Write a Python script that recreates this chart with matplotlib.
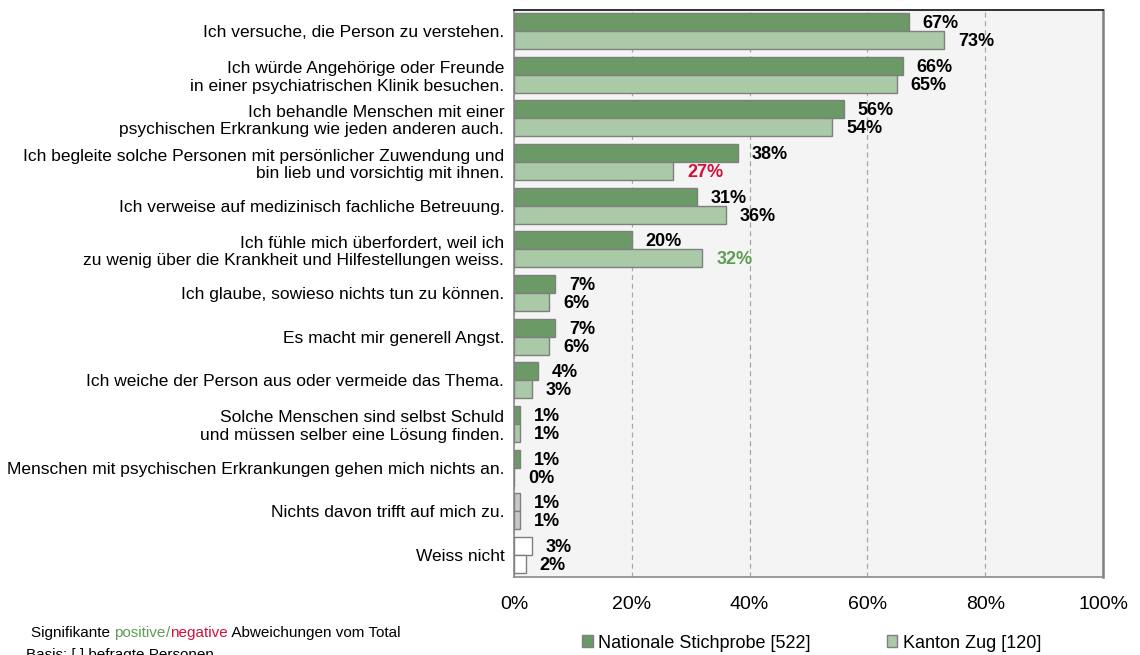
import numpy as np
import matplotlib
matplotlib.use("Agg")
import matplotlib.pyplot as plt
from matplotlib.patches import Patch

plt.rcParams['font.family'] = ['Liberation Sans', 'DejaVu Sans']

# Daten
kategorien = [
    "Ich versuche, die Person zu verstehen.",
    "Ich würde Angehörige oder Freunde\nin einer psychiatrischen Klinik besuchen.",
    "Ich behandle Menschen mit einer\npsychischen Erkrankung wie jeden anderen auch.",
    "Ich begleite solche Personen mit persönlicher Zuwendung und\nbin lieb und vorsichtig mit ihnen.",
    "Ich verweise auf medizinisch fachliche Betreuung.",
    "Ich fühle mich überfordert, weil ich\nzu wenig über die Krankheit und Hilfestellungen weiss.",
    "Ich glaube, sowieso nichts tun zu können.",
    "Es macht mir generell Angst.",
    "Ich weiche der Person aus oder vermeide das Thema.",
    "Solche Menschen sind selbst Schuld\nund müssen selber eine Lösung finden.",
    "Menschen mit psychischen Erkrankungen gehen mich nichts an.",
    "Nichts davon trifft auf mich zu.",
    "Weiss nicht",
]
national = [67, 66, 56, 38, 31, 20, 7, 7, 4, 1, 1, 1, 3]
zug = [73, 65, 54, 27, 36, 32, 6, 6, 3, 1, 0, 1, 2]
# Signifikanz für Kanton Zug: +1 positiv, -1 negativ, 0 keine
signifikanz_zug = [0, 0, 0, -1, 0, 1, 0, 0, 0, 0, 0, 0, 0]

legende = ["Nationale Stichprobe [522]", "Kanton Zug [120]"]
ticks = [0, 20, 40, 60, 80, 100]

# Farben
dunkelgruen = "#6b9a66"
hellgruen = "#aac9a6"
grau_bar = "#c8c8c8"
rand = "#7f7f7f"
rot = "#d2103c"
gruen_text = "#5f9d55"

farben_nat = [dunkelgruen] * 11 + [grau_bar, "white"]
farben_zug = [hellgruen] * 11 + [grau_bar, "white"]

fig = plt.figure(figsize=(11.4, 6.55), dpi=100)
ax = fig.add_axes([514 / 1140, 1 - 577 / 655, 589 / 1140, 567 / 655])
ax.set_facecolor("#f4f4f4")

n = len(kategorien)
y = np.arange(n)
h = 0.412

ax.barh(y - h / 2, national, height=h, color=farben_nat, edgecolor=rand, linewidth=1, zorder=3)
ax.barh(y + h / 2, zug, height=h, color=farben_zug, edgecolor=rand, linewidth=1, zorder=3)

# Werte beschriften
for i in range(n):
    ax.annotate(f"{national[i]}%", (national[i], y[i] - h / 2), xytext=(10, -1),
                textcoords="offset points", va="center", ha="left",
                fontsize=13, fontweight="bold", color="black", zorder=4)
    if signifikanz_zug[i] > 0:
        c = gruen_text
    elif signifikanz_zug[i] < 0:
        c = rot
    else:
        c = "black"
    ax.annotate(f"{zug[i]}%", (zug[i], y[i] + h / 2), xytext=(10, -1),
                textcoords="offset points", va="center", ha="left",
                fontsize=13, fontweight="bold", color=c, zorder=4)

ax.set_xlim(0, 100)
ax.set_ylim(n - 1 + 0.504, -0.481)
ax.set_xticks(ticks)
ax.set_xticklabels([f"{t}%" for t in ticks], fontsize=14)
ax.set_yticks(y)
ax.set_yticklabels(kategorien, fontsize=12.5, linespacing=1.22)
ax.tick_params(axis="both", length=0)
ax.tick_params(axis="x", pad=14)
ax.tick_params(axis="y", pad=7)

ax.grid(axis="x", color="#a8a8a8", linestyle=(0, (4, 3)), linewidth=0.9, zorder=0)
ax.set_axisbelow(True)

for s in ["left", "bottom"]:
    ax.spines[s].set_color("#8a8a8a")
    ax.spines[s].set_linewidth(1.2)
ax.spines["top"].set_color("#222222")
ax.spines["top"].set_linewidth(1.3)
ax.spines["right"].set_color("#808080")
ax.spines["right"].set_linewidth(1.8)

# Legende
handles = [Patch(facecolor=dunkelgruen, edgecolor=rand),
           Patch(facecolor=hellgruen, edgecolor=rand)]
fig.legend(handles, legende, loc="center left", bbox_to_anchor=(582 / 1140, 1 - 643 / 655),
           ncol=2, frameon=False, fontsize=13, handlelength=0.6, handleheight=0.6,
           handletextpad=0.3, columnspacing=4.2, borderaxespad=0, borderpad=0)

# Fusszeile mit farbigen Teilen
renderer = fig.canvas.get_renderer()
teile = [("Signifikante ", "black"), ("positive", gruen_text), ("/", gruen_text),
         ("negative", rot), (" Abweichungen vom Total", "black")]
x_px = 31
for txt, col in teile:
    t = fig.text(x_px / 1140, 1 - 633 / 655, txt, fontsize=11, color=col, va="center", ha="left")
    bb = t.get_window_extent(renderer=renderer)
    x_px += bb.width
fig.text(26 / 1140, 1 - 648 / 655, "Basis: [ ] befragte Personen", fontsize=11,
         color="black", va="top", ha="left")

fig.savefig("out.png", dpi=100)
